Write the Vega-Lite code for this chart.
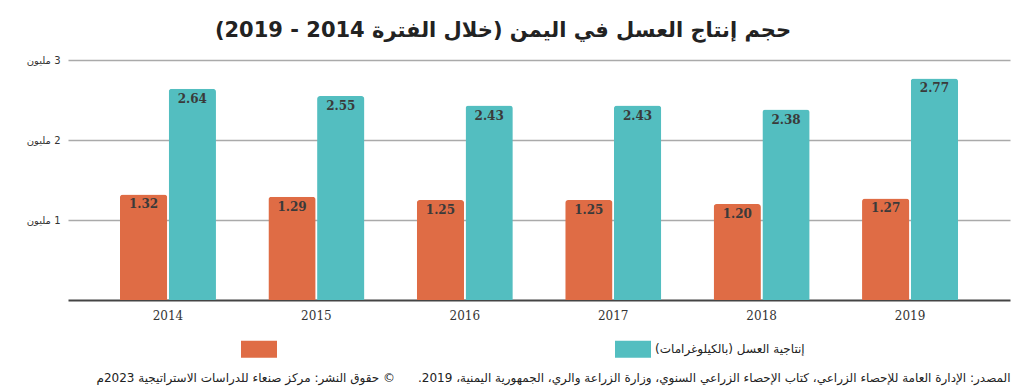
{
  "$schema": "https://vega.github.io/schema/vega-lite/v6.json",
  "width": 942,
  "height": 240,
  "autosize": {"type": "none"},
  "padding": {"left": 68, "top": 60, "right": 14, "bottom": 92},
  "background": "white",
  "view": {"stroke": null},
  "title": {
    "text": "حجم إنتاج العسل في اليمن (خلال الفترة 2014 - 2019)‏",
    "font": "DejaVu Sans",
    "fontSize": 21,
    "fontWeight": "bold",
    "color": "#222222",
    "anchor": "middle",
    "dx": -36,
    "offset": 14
  },
  "data": {
    "values": [
      {"year": "2014", "series": "أ", "value": 1.32},
      {"year": "2014", "series": "إنتاجية العسل (بالكيلوغرامات)", "value": 2.64},
      {"year": "2015", "series": "أ", "value": 1.29},
      {"year": "2015", "series": "إنتاجية العسل (بالكيلوغرامات)", "value": 2.55},
      {"year": "2016", "series": "أ", "value": 1.25},
      {"year": "2016", "series": "إنتاجية العسل (بالكيلوغرامات)", "value": 2.43},
      {"year": "2017", "series": "أ", "value": 1.25},
      {"year": "2017", "series": "إنتاجية العسل (بالكيلوغرامات)", "value": 2.43},
      {"year": "2018", "series": "أ", "value": 1.20},
      {"year": "2018", "series": "إنتاجية العسل (بالكيلوغرامات)", "value": 2.38},
      {"year": "2019", "series": "أ", "value": 1.27},
      {"year": "2019", "series": "إنتاجية العسل (بالكيلوغرامات)", "value": 2.77}
    ]
  },
  "encoding": {
    "x": {
      "field": "year",
      "type": "nominal",
      "scale": {"paddingInner": 0.353, "paddingOuter": 0.35},
      "axis": {
        "orient": "bottom",
        "labelAngle": 0,
        "labelFont": "DejaVu Serif",
        "labelFontSize": 12,
        "labelColor": "#333333",
        "labelPadding": 10,
        "ticks": false,
        "domain": true,
        "domainColor": "#444444",
        "domainWidth": 2,
        "title": "المصدر: الإدارة العامة للإحصاء الزراعي، كتاب الإحصاء الزراعي السنوي، وزارة الزراعة والري، الجمهورية اليمنية، 2019.\u00a0\u00a0\u00a0\u00a0\u00a0\u00a0©\u00a0حقوق النشر: مركز صنعاء للدراسات الاستراتيجية 2023م",
        "titleFont": "DejaVu Sans",
        "titleFontSize": 12,
        "titleFontWeight": "normal",
        "titleColor": "#222222",
        "titleAnchor": "end",
        "titlePadding": 51
      }
    },
    "xOffset": {
      "field": "series",
      "type": "nominal",
      "scale": {"paddingInner": 0.03, "domain": ["أ", "إنتاجية العسل (بالكيلوغرامات)"]}
    },
    "y": {
      "field": "value",
      "type": "quantitative",
      "scale": {"domain": [0, 3], "nice": false},
      "axis": {
        "values": [1, 2, 3],
        "labelExpr": "'مليون ‎' + datum.value",
        "labelFont": "DejaVu Sans",
        "labelFontSize": 10,
        "labelColor": "#333333",
        "labelPadding": 8,
        "ticks": false,
        "domain": false,
        "grid": true,
        "gridColor": "#aaaaaa",
        "gridWidth": 1.5,
        "title": null
      }
    }
  },
  "layer": [
    {
      "mark": {"type": "bar", "cornerRadiusTopLeft": 3, "cornerRadiusTopRight": 3},
      "encoding": {
        "color": {
          "field": "series",
          "type": "nominal",
          "scale": {
            "domain": ["أ", "إنتاجية العسل (بالكيلوغرامات)"],
            "range": ["#DF6C45", "#53BEC0"]
          },
          "legend": {
            "orient": "none",
            "legendX": 173,
            "legendY": 271,
            "direction": "horizontal",
            "title": null,
            "padding": 0,
            "symbolType": "M-1,-0.47H1V0.47H-1Z",
            "symbolSize": 1296,
            "symbolStrokeWidth": 0,
            "symbolOpacity": 1,
            "labelExpr": "datum.label == 'أ' ? '' : datum.label + '‏'",
            "labelFont": "DejaVu Sans",
            "labelFontSize": 12,
            "labelColor": "#222222",
            "labelOffset": 4,
            "labelLimit": 300,
            "columnPadding": 334
          }
        }
      }
    },
    {
      "mark": {
        "type": "text",
        "baseline": "middle",
        "dy": 10,
        "font": "DejaVu Serif",
        "fontSize": 12,
        "fontWeight": "bold",
        "color": "#3a3a3a"
      },
      "encoding": {
        "text": {"field": "value", "type": "quantitative", "format": ".2f"}
      }
    }
  ]
}
